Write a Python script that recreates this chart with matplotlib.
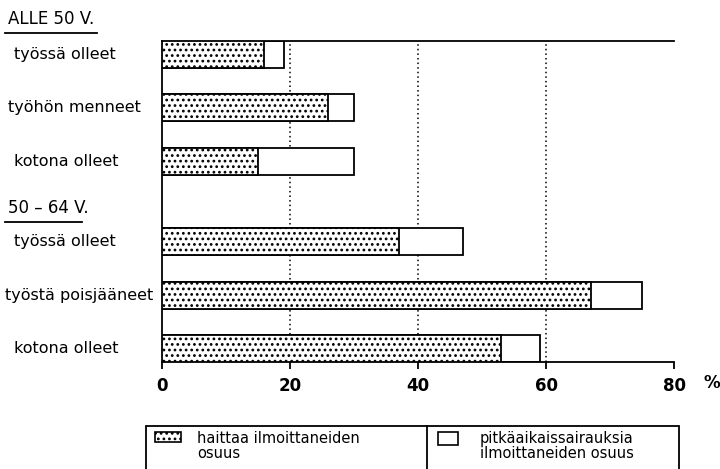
import matplotlib
matplotlib.use("Agg")
import matplotlib.pyplot as plt
from matplotlib.patches import Rectangle
from matplotlib.lines import Line2D
import matplotlib.transforms as mtransforms

plt.rcParams['hatch.linewidth'] = 1.2
plt.rcParams['font.family'] = 'DejaVu Sans'

# data
groups = ["ALLE 50 V.", "50 – 64 V."]
labels = ["työssä olleet", "työhön menneet", "kotona olleet",
          "työssä olleet", "työstä poisjääneet", "kotona olleet"]
haitta = [16, 26, 15, 37, 67, 53]          # haittaa ilmoittaneiden osuus
pitkaaik = [19, 30, 30, 47, 75, 59]        # pitkäaikaissairauksia ilmoittaneiden osuus
xticks = [0, 20, 40, 60, 80]

ypos = [0.25, 1.25, 2.25, 3.75, 4.75, 5.75]

fig = plt.figure(figsize=(7.2, 4.69), dpi=100)
ax = fig.add_axes([162/720, 1 - 362/469, (674 - 162)/720, (362 - 41)/469])

for g in (20, 40, 60):
    ax.axvline(g, color='black', linestyle=(0, (1, 2)), linewidth=1.1, zorder=1)

ax.barh(ypos, pitkaaik, height=0.5, color='white', edgecolor='black', linewidth=1.3, zorder=2)
ax.barh(ypos, haitta, height=0.5, color='white', edgecolor='black', hatch='...', linewidth=1.3, zorder=3)

ax.set_xlim(0, 80)
ax.set_ylim(6, 0)
ax.set_xticks(xticks)
ax.set_xticklabels([str(t) for t in xticks], fontsize=12, fontweight='bold')
ax.set_yticks([])
ax.tick_params(axis='x', direction='out', length=5, width=1.3, pad=6)
ax.spines['right'].set_visible(False)
for s in ('top', 'left', 'bottom'):
    ax.spines[s].set_linewidth(1.3)

fig.text(712/720, 1 - 383/469, "%", fontsize=12, fontweight='bold', ha='center', va='center')

trans = mtransforms.blended_transform_factory(fig.transFigure, ax.transData)
label_x = [14, 8, 14, 14, 5, 14]
for lx, y, lab in zip(label_x, ypos, labels):
    ax.text(lx/720, y, lab, transform=trans, ha='left', va='center', fontsize=11.5)

# group headers with underline
fig.text(8/720, 1 - 19/469, groups[0], fontsize=12, va='center', ha='left')
fig.add_artist(Line2D([5/720, 97/720], [1 - 33/469, 1 - 33/469], color='black', linewidth=1.3))
fig.text(8/720, 1 - 208/469, groups[1], fontsize=12, va='center', ha='left')
fig.add_artist(Line2D([5/720, 82/720], [1 - 222/469, 1 - 222/469], color='black', linewidth=1.3))

# legend box
fig.add_artist(Rectangle((146/720, -0.02), (679 - 146)/720, (0.02 + 1 - 426/469),
                         transform=fig.transFigure, fill=False, edgecolor='black', linewidth=1.3))
fig.add_artist(Line2D([427/720, 427/720], [0, 1 - 426/469], color='black', linewidth=1.3))
fig.add_artist(Rectangle((155/720, 1 - 442/469), 26/720, 10/469, transform=fig.transFigure,
                         facecolor='white', edgecolor='black', hatch='...', linewidth=1.2))
fig.add_artist(Rectangle((438/720, 1 - 445/469), 20/720, 13/469, transform=fig.transFigure,
                         facecolor='white', edgecolor='black', linewidth=1.2))
fig.text(197/720, 1 - 446/469, "haittaa ilmoittaneiden\nosuus", fontsize=10.5,
         va='center', ha='left', linespacing=0.95)
fig.text(480/720, 1 - 446/469, "pitkäaikaissairauksia\nilmoittaneiden osuus", fontsize=10.5,
         va='center', ha='left', linespacing=0.95)

fig.savefig("out.png", dpi=100)
